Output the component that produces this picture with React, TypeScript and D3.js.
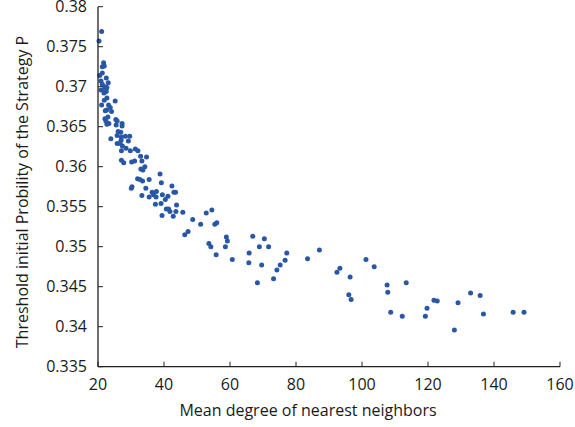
import React from "react";
import * as d3 from "d3";

const xVals: number[] = [
  21.1, 20.3, 21.7, 21.3, 21.9, 21.3, 20.5, 22.5, 20.9, 23.1, 21.3, 22.1, 22.7, 20.9, 21.7, 22.5, 22.5, 21.8, 22.7, 21.9,
  25.2, 21.1, 23.2, 23.7, 22.6, 22.2, 24.1, 22.1, 23.0, 25.4, 25.8, 22.7, 23.3, 22.4, 25.5, 27.3, 27.3, 26.1, 26.9, 23.9,
  25.8, 27.1, 28.3, 29.6, 27.0, 29.2, 25.8, 26.7, 27.4, 28.5, 27.1, 29.8, 31.3, 32.1, 32.9, 34.7, 27.1, 27.8, 30.2, 31.1,
  33.3, 34.2, 33.0, 33.6, 38.8, 32.0, 32.7, 33.5, 35.5, 39.2, 42.4, 34.5, 30.3, 30.1, 33.3, 36.4, 37.7, 36.8, 35.5, 37.6,
  39.5, 43.0, 43.5, 41.2, 40.4, 37.4, 39.1, 43.8, 40.7, 41.4, 41.8, 43.6, 45.7, 39.4, 42.8, 48.7, 47.3, 46.3,
  54.5, 52.8, 51.1, 55.4, 56.0, 58.9, 59.2, 58.6, 53.6, 54.2, 55.8, 60.7, 66.9, 70.4, 68.9, 71.7, 65.8, 65.7, 69.6, 77.2,
  76.7, 75.2, 74.2, 73.2, 68.3, 83.5, 87.1, 101.2, 103.7, 93.3, 92.4, 96.4, 96.0, 96.7, 107.6, 107.8, 113.4, 108.7, 112.2, 121.8,
  122.8, 119.7, 119.2, 129.1, 132.9, 135.8, 128.0, 136.8, 145.8, 149.1,
];

const yVals: number[] = [
  0.3769, 0.3757, 0.3730, 0.3725, 0.3726, 0.3717, 0.3714, 0.3711, 0.3707, 0.3705, 0.3703, 0.3700, 0.3699, 0.3696, 0.3696, 0.3698, 0.3694, 0.3692, 0.3686, 0.3683,
  0.3682, 0.3677, 0.3677, 0.3674, 0.3671, 0.3670, 0.3669, 0.3660, 0.3662, 0.3659, 0.3657, 0.3653, 0.3654, 0.3657, 0.3652, 0.3654, 0.3651, 0.3644, 0.3643, 0.3635,
  0.3639, 0.3637, 0.3638, 0.3638, 0.3633, 0.3632, 0.3629, 0.3629, 0.3626, 0.3623, 0.3620, 0.3620, 0.3622, 0.3620, 0.3613, 0.3612, 0.3608, 0.3605, 0.3606, 0.3607,
  0.3607, 0.3600, 0.3597, 0.3596, 0.3591, 0.3585, 0.3584, 0.3582, 0.3584, 0.3580, 0.3576, 0.3573, 0.3575, 0.3573, 0.3564, 0.3568, 0.3569, 0.3565, 0.3562, 0.3562,
  0.3565, 0.3568, 0.3568, 0.3563, 0.3559, 0.3553, 0.3554, 0.3552, 0.3547, 0.3547, 0.3544, 0.3544, 0.3543, 0.3539, 0.3538, 0.3534, 0.3519, 0.3515,
  0.3546, 0.3542, 0.3528, 0.3528, 0.3530, 0.3512, 0.3507, 0.3500, 0.3504, 0.3500, 0.3490, 0.3484, 0.3513, 0.3510, 0.3500, 0.3500, 0.3492, 0.3480, 0.3477, 0.3492,
  0.3483, 0.3477, 0.3471, 0.3460, 0.3455, 0.3485, 0.3496, 0.3484, 0.3475, 0.3473, 0.3468, 0.3462, 0.3440, 0.3434, 0.3452, 0.3443, 0.3455, 0.3418, 0.3413, 0.3433,
  0.3432, 0.3423, 0.3413, 0.3430, 0.3442, 0.3439, 0.3396, 0.3416, 0.3418, 0.3418,
];

const xTicks: number[] = [20, 40, 60, 80, 100, 120, 140, 160];
const yTicks: number[] = [0.335, 0.34, 0.345, 0.35, 0.355, 0.36, 0.365, 0.37, 0.375, 0.38];
const xTitle = "Mean degree of nearest neighbors";
const yTitle = "Threshold initial Probility of the Strategy P";

const W = 575;
const H = 427;
const M = { left: 98, right: 15, top: 6.7, bottom: 60.3 };
const FONT = "'Open Sans', 'Noto Sans', sans-serif";
const TXT = "#1a1a1a";
const AX = "#231f20";
const DOT = "#2857a6";

export default function App() {
  const x = d3.scaleLinear().domain([20, 160]).range([M.left, W - M.right]);
  const y = d3.scaleLinear().domain([0.335, 0.38]).range([H - M.bottom, M.top]);
  const fmt = d3.format("");
  const pts = xVals.map((v, i) => [v, yVals[i]] as [number, number]);
  const y0 = y(0.335);
  const x0 = x(20);
  return (
    <svg width={W} height={H} style={{ position: "absolute", left: 0, top: 0, background: "#fff" }} fontFamily={FONT}>
      {pts.map((p, i) => (
        <circle key={i} cx={x(p[0])} cy={y(p[1])} r={2.5} fill={DOT} />
      ))}
      <line x1={x0} x2={x(160)} y1={y0} y2={y0} stroke={AX} strokeWidth={1.3} />
      <line x1={x0} x2={x0} y1={y(0.38)} y2={y0} stroke={AX} strokeWidth={1.3} />
      {xTicks.map((t) => (
        <g key={"x" + t}>
          <line x1={x(t)} x2={x(t)} y1={y0} y2={y0 - 5} stroke={AX} strokeWidth={1} />
          <text x={x(t)} y={y0 + 23} textAnchor="middle" fontSize={16} fill={TXT}>
            {fmt(t)}
          </text>
        </g>
      ))}
      {yTicks.map((t) => (
        <g key={"y" + t}>
          <line x1={x0} x2={x0 + 5} y1={y(t)} y2={y(t)} stroke={AX} strokeWidth={1} />
          <text x={x0 - 11} y={y(t) + 5.5} textAnchor="end" fontSize={16} fill={TXT}>
            {fmt(t)}
          </text>
        </g>
      ))}
      <text x={308} y={416} textAnchor="middle" fontSize={16} fill={TXT}>
        {xTitle}
      </text>
      <text transform={`translate(28,192) rotate(-90)`} textAnchor="middle" fontSize={16} fill={TXT}>
        {yTitle}
      </text>
    </svg>
  );
}
